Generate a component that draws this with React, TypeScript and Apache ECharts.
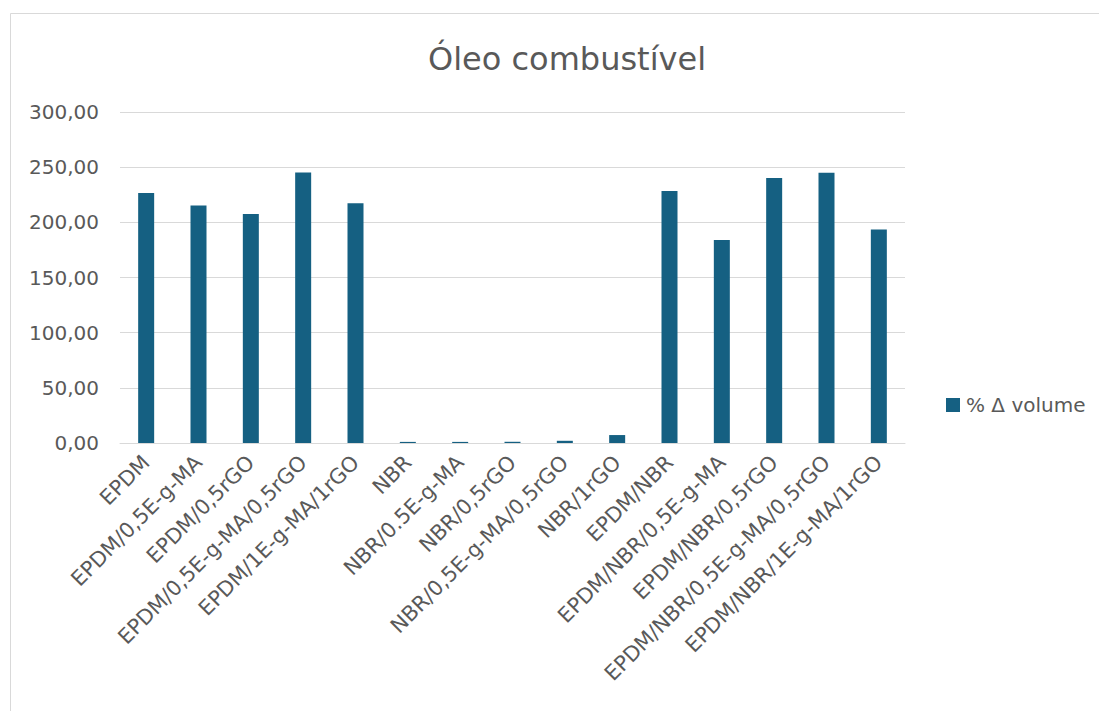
import React, { useEffect, useRef } from "react";
import * as echarts from "echarts";

const categories = [
  "EPDM",
  "EPDM/0,5E-g-MA",
  "EPDM/0,5rGO",
  "EPDM/0,5E-g-MA/0,5rGO",
  "EPDM/1E-g-MA/1rGO",
  "NBR",
  "NBR/0.5E-g-MA",
  "NBR/0,5rGO",
  "NBR/0,5E-g-MA/0,5rGO",
  "NBR/1rGO",
  "EPDM/NBR",
  "EPDM/NBR/0,5E-g-MA",
  "EPDM/NBR/0,5rGO",
  "EPDM/NBR/0,5E-g-MA/0,5rGO",
  "EPDM/NBR/1E-g-MA/1rGO",
];

const volumeChange = [
  226.6, 215.3, 207.5, 245.2, 217.4, 1.0, 1.0, 1.1, 2.0, 7.2, 228.4, 184.1,
  240.1, 245.0, 193.4,
];

const seriesName = "% Δ volume";
const chartTitle = "Óleo combustível";

const textColor = "#595959";
const gridColor = "#d9d9d9";
const barColor = "#156082";
const fontFamily = "'DejaVu Sans', 'Noto Sans', sans-serif";

export default function App() {
  const ref = useRef<HTMLDivElement>(null);

  useEffect(() => {
    if (!ref.current) return;
    const chart = echarts.init(ref.current, null, { renderer: "svg" });
    chart.setOption({
      animation: false,
      backgroundColor: "#ffffff",
      textStyle: { fontFamily },
      title: {
        text: chartTitle,
        left: 562,
        top: 38,
        textAlign: "center",
        textStyle: {
          fontFamily,
          fontSize: 32,
          fontWeight: "normal",
          color: textColor,
        },
      },
      graphic: [
        {
          type: "rect",
          silent: true,
          z: -10,
          shape: { x: 10.5, y: 13.5, width: 1100, height: 720 },
          style: { fill: "none", stroke: gridColor, lineWidth: 1 },
        },
      ],
      legend: {
        data: [seriesName],
        left: 941,
        top: 390,
        orient: "vertical",
        itemWidth: 14,
        itemHeight: 14,
        itemGap: 6,
        icon: "rect",
        textStyle: { fontFamily, fontSize: 20, color: textColor, padding: [0, 0, 0, 1] },
      },
      grid: {
        left: 120,
        right: 194,
        top: 112,
        bottom: 268,
        containLabel: false,
      },
      xAxis: {
        type: "category",
        data: categories,
        axisLine: { lineStyle: { color: gridColor, width: 1 } },
        axisTick: { show: false },
        axisLabel: {
          interval: 0,
          rotate: 45,
          margin: 16,
          fontFamily,
          fontSize: 21,
          color: textColor,
        },
      },
      yAxis: {
        type: "value",
        min: 0,
        max: 300,
        interval: 50,
        axisLine: { show: false },
        axisTick: { show: false },
        splitLine: { lineStyle: { color: gridColor, width: 1 } },
        axisLabel: {
          margin: 21,
          fontFamily,
          fontSize: 20,
          color: textColor,
          formatter: (v: number) => v.toFixed(2).replace(".", ","),
        },
      },
      series: [
        {
          name: seriesName,
          type: "bar",
          data: volumeChange,
          barWidth: 16,
          itemStyle: { color: barColor },
        },
      ],
    });
    return () => chart.dispose();
  }, []);

  return (
    <div
      ref={ref}
      style={{ position: "absolute", left: 0, top: 0, width: 1099, height: 711 }}
    />
  );
}
